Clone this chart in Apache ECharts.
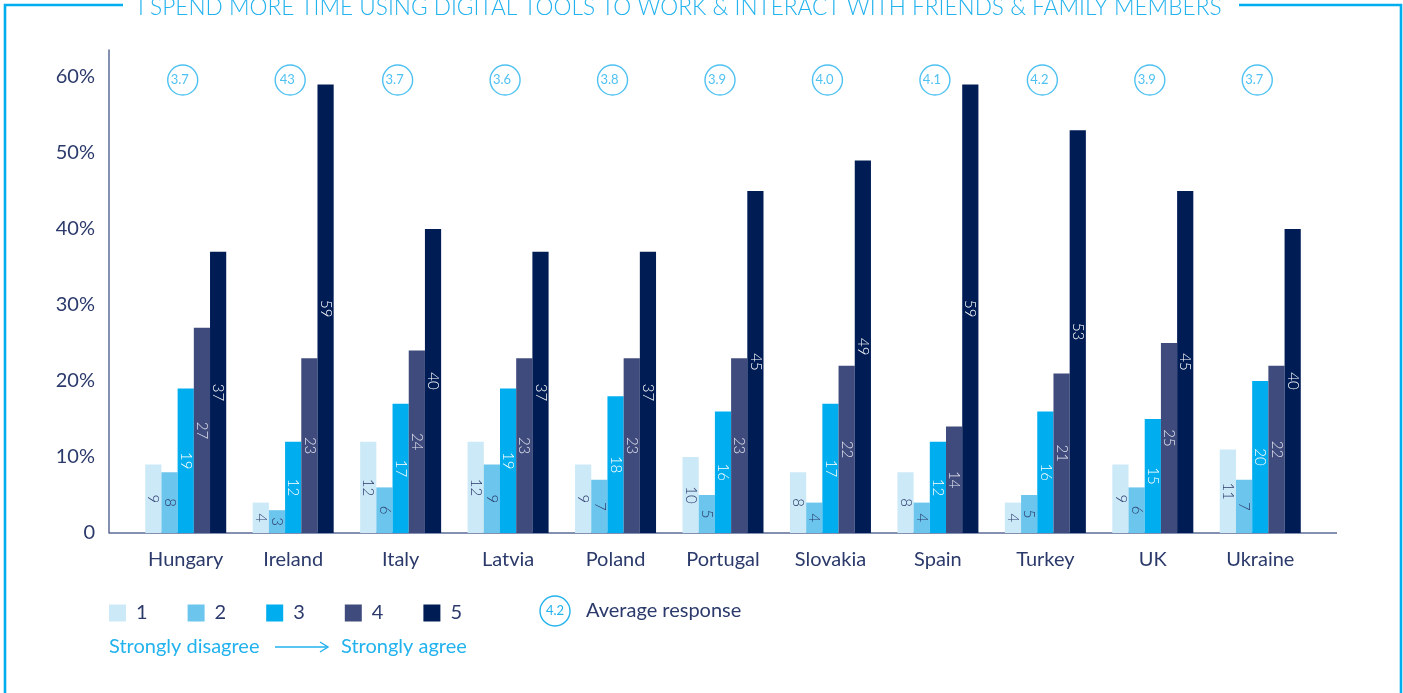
<!DOCTYPE html>
<html>
<head>
<meta charset="utf-8">
<script src="https://cdn.jsdelivr.net/npm/echarts@6/dist/echarts.min.js"></script>
<style>
html,body{margin:0;padding:0;background:#fff;}
#chart{width:1403px;height:693px;}
</style>
</head>
<body>
<div id="chart"></div>
<script>
const countries = ['Hungary','Ireland','Italy','Latvia','Poland','Portugal','Slovakia','Spain','Turkey','UK','Ukraine'];
const resp1 = [9, 4, 12, 12, 9, 10, 8, 8, 4, 9, 11];
const resp2 = [8, 3, 6, 9, 7, 5, 4, 4, 5, 6, 7];
const resp3 = [19, 12, 17, 19, 18, 16, 17, 12, 16, 15, 20];
const resp4 = [27, 23, 24, 23, 23, 23, 22, 14, 21, 25, 22];
const resp5 = [37, 59, 40, 37, 37, 45, 49, 59, 53, 45, 40];
const averages = ['3.7','43','3.7','3.6','3.8','3.9','4.0','4.1','4.2','3.9','3.7'];
const yTicks = [0, 10, 20, 30, 40, 50, 60];
const seriesNames = ['1','2','3','4','5'];
const title = 'I SPEND MORE TIME USING DIGITAL TOOLS TO WORK & INTERACT WITH FRIENDS & FAMILY MEMBERS';

const colors = ['#cce9f7','#6cc5ed','#00adee','#404b7d','#001c55'];
const labelColors = ['#2b3a6b','#2b3a6b','#ffffff','#dfe2ec','#ffffff'];
const FONT = 'Lato, "Open Sans", sans-serif';
const CYAN = '#22b2ee';
const NAVY = '#2b3a6b';

const values = [resp1, resp2, resp3, resp4, resp5];
const AVG_Y = 59.6;

const chart = echarts.init(document.getElementById('chart'), null, {renderer:'canvas'});

const barSeries = values.map((vals, i) => ({
  name: seriesNames[i],
  type: 'bar',
  data: vals,
  barWidth: 16.2,
  barGap: '0%',
  itemStyle: {color: colors[i]},
  label: {
    show: true,
    position: 'inside',
    rotate: -90,
    color: labelColors[i],
    fontFamily: FONT,
    fontSize: 15,
    fontWeight: 300,
    formatter: '{c}'
  },
  emphasis: {disabled: true}
}));

const option = {
  animation: false,
  backgroundColor: '#ffffff',
  textStyle: {fontFamily: FONT},
  grid: {left: 132, right: 89, top: 50, bottom: 160, containLabel: false},
  legend: {
    data: seriesNames,
    left: 109,
    top: 603,
    padding: 0,
    itemWidth: 17,
    itemHeight: 17,
    itemGap: 40,
    icon: 'rect',
    selectedMode: false,
    textStyle: {color: NAVY, fontSize: 20, fontFamily: FONT, padding: [0,0,0,5]}
  },
  xAxis: {
    type: 'category',
    data: countries,
    axisLine: {show: false},
    axisTick: {show: false},
    axisLabel: {color: NAVY, fontSize: 20, fontFamily: FONT, margin: 17}
  },
  yAxis: {
    type: 'value',
    min: 0,
    max: 63.55,
    interval: 10,
    offset: 23,
    splitLine: {show: false},
    axisTick: {show: false},
    axisLine: {show: true, lineStyle: {color: '#5b6b96', width: 1.5}},
    axisLabel: {
      color: NAVY, fontSize: 20, fontFamily: FONT, margin: 14,
      formatter: v => (yTicks.indexOf(v) < 0 ? '' : (v === 0 ? '0' : v + '%'))
    }
  },
  series: barSeries.concat([{
    name: 'Average response',
    type: 'scatter',
    data: averages.map((a, i) => [i, AVG_Y]),
    symbol: 'circle',
    symbolSize: [30, 30],
    symbolOffset: [-3, 0],
    itemStyle: {color: '#ffffff', borderColor: CYAN, borderWidth: 1.4},
    label: {
      show: true,
      position: 'inside',
      offset: [-3, 0],
      color: CYAN,
      fontSize: 13,
      fontFamily: FONT,
      formatter: p => averages[p.dataIndex]
    },
    emphasis: {disabled: true},
    z: 5
  }]),
  graphic: [
    {type: 'polyline', shape: {points: [[5,693],[5,5],[123,5]]}, style: {stroke: '#00aeef', lineWidth: 2.6, fill: null}},
    {type: 'polyline', shape: {points: [[1239,5],[1401,5],[1401,693]]}, style: {stroke: '#00aeef', lineWidth: 2.6, fill: null}},
    {type: 'text', x: 138, y: -4, scaleX: 0.985, style: {text: title, fill: CYAN, fontSize: 23, fontFamily: FONT, fontWeight: 300}},
    {type: 'line', shape: {x1: 109, y1: 533, x2: 1337, y2: 533}, style: {stroke: '#5b6b96', lineWidth: 1.5}},
    {type: 'circle', shape: {cx: 555, cy: 611, r: 15}, style: {stroke: CYAN, lineWidth: 1.4, fill: '#fff'}},
    {type: 'text', x: 555, y: 611, style: {text: '4.2', fill: CYAN, fontSize: 13, fontFamily: FONT, align: 'center', verticalAlign: 'middle'}},
    {type: 'text', x: 586, y: 611, style: {text: 'Average response', fill: NAVY, fontSize: 20, fontFamily: FONT, verticalAlign: 'middle'}},
    {type: 'text', x: 109, y: 647, style: {text: 'Strongly disagree', fill: CYAN, fontSize: 20, fontFamily: FONT, verticalAlign: 'middle'}},
    {type: 'line', shape: {x1: 275, y1: 647, x2: 327, y2: 647}, style: {stroke: CYAN, lineWidth: 1.4}},
    {type: 'polyline', shape: {points: [[320,642],[328,647],[320,652]]}, style: {stroke: CYAN, lineWidth: 1.4, fill: null}},
    {type: 'text', x: 341, y: 647, style: {text: 'Strongly agree', fill: CYAN, fontSize: 20, fontFamily: FONT, verticalAlign: 'middle'}}
  ]
};
chart.setOption(option);
</script>
</body>
</html>
